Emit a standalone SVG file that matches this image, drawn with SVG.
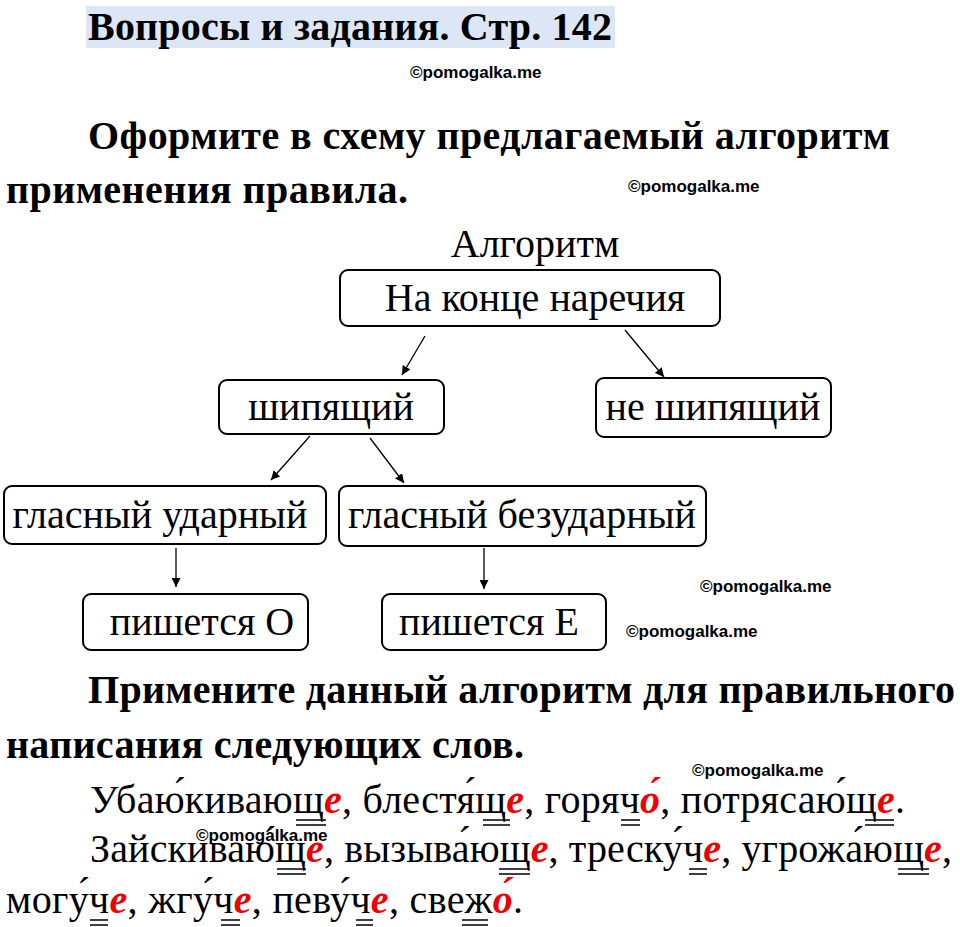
<svg xmlns="http://www.w3.org/2000/svg" width="960" height="927" viewBox="0 0 960 927">
<style>
.t{font-family:"Liberation Serif",serif;fill:#000}
.b{font-weight:bold;font-size:40px}
.n{font-size:40px}
.w{font-family:"Liberation Sans",Arial,sans-serif;font-weight:bold;font-size:17px;fill:#000}
.box{fill:#fff;stroke:#000;stroke-width:2}
.c{stroke:#000;stroke-width:1.3;fill:none;marker-end:url(#a)}
.r{fill:#e00;font-weight:bold;font-style:italic}
.u{stroke:#000;stroke-width:1.5}
</style>
<defs><marker id="a" viewBox="0 0 10 10" refX="10" refY="5" markerWidth="9" markerHeight="9" orient="auto" markerUnits="userSpaceOnUse"><path d="M0,0L10,5L0,10z" fill="#000"/></marker></defs>
<rect width="960" height="927" fill="#fff"/>
<rect x="86" y="6" width="529" height="42" fill="#dce6f4"/>
<text class="t b" x="88" y="40" textLength="524">Вопросы и задания. Стр. 142</text>
<text class="w" x="410" y="78">©pomogalka.me</text>
<text class="t b" x="88" y="149" textLength="802">Оформите в схему предлагаемый алгоритм</text>
<text class="t b" x="6" y="203" textLength="402">применения правила.</text>
<text class="w" x="628" y="192">©pomogalka.me</text>
<text class="t n" x="535" y="257" text-anchor="middle">Алгоритм</text>
<g id="n1"><rect class="box" x="340" y="270" width="380" height="56" rx="8"/><text class="t n" x="535" y="311" text-anchor="middle">На конце наречия</text></g>
<g id="n2"><rect class="box" x="219" y="380" width="225" height="54" rx="8"/><text class="t n" x="331" y="420" text-anchor="middle">шипящий</text></g>
<g id="n3"><rect class="box" x="596" y="378" width="235" height="59" rx="8"/><text class="t n" x="713" y="420" text-anchor="middle">не шипящий</text></g>
<g id="n4"><rect class="box" x="4" y="486" width="322" height="58" rx="8"/><text class="t n" x="160" y="528" text-anchor="middle">гласный ударный</text></g>
<g id="n5"><rect class="box" x="339" y="486" width="367" height="60" rx="8"/><text class="t n" x="522" y="528" text-anchor="middle">гласный безударный</text></g>
<g id="n6"><rect class="box" x="83" y="594" width="225" height="56" rx="8"/><text class="t n" x="202" y="635" text-anchor="middle">пишется О</text></g>
<g id="n7"><rect class="box" x="382" y="594" width="224" height="56" rx="8"/><text class="t n" x="489" y="635" text-anchor="middle">пишется Е</text></g>
<g id="edges">
<line class="c" x1="425" y1="336" x2="402" y2="375"/>
<line class="c" x1="625" y1="330" x2="664" y2="377"/>
<line class="c" x1="310" y1="436" x2="271" y2="480"/>
<line class="c" x1="370" y1="438" x2="404" y2="483"/>
<line class="c" x1="176" y1="548" x2="176" y2="587"/>
<line class="c" x1="484" y1="548" x2="484" y2="589"/>
</g>
<text class="w" x="700" y="592">©pomogalka.me</text>
<text class="w" x="626" y="637">©pomogalka.me</text>
<text class="t b" x="88" y="703" textLength="867">Примените данный алгоритм для правильного</text>
<text class="t b" x="6" y="758" textLength="518">написания следующих слов.</text>
<text class="w" x="692" y="776">©pomogalka.me</text>
<text class="t n" x="90" y="813" textLength="815">Убаю́киваю<tspan>щ</tspan><tspan class="r">е</tspan>, блестя́щ<tspan class="r">е</tspan>, горяч<tspan class="r">о́</tspan>, потрясаю́щ<tspan class="r">е</tspan>.</text>
<text class="w" x="196" y="841">©pomogalka.me</text>
<text class="t n" x="90" y="862" textLength="862">Зайскиваю́щ<tspan class="r">е</tspan>, вызыва́ющ<tspan class="r">е</tspan>, треску́ч<tspan class="r">е</tspan>, угрожа́ющ<tspan class="r">е</tspan>,</text>
<text class="t n" x="6" y="913" textLength="517">могу́ч<tspan class="r">е</tspan>, жгу́ч<tspan class="r">е</tspan>, певу́ч<tspan class="r">е</tspan>, свеж<tspan class="r">о́</tspan>.</text>
<g id="underlines">
<path class="u" d="M296 820h30M296 825h30M483 820h27M483 825h27M621 820h19M621 825h19M865 820h29M865 825h29M277 869h29M277 874h29M499 869h31M499 874h31M689 869h18M689 874h18M898 869h31M898 874h31M90 920h18M90 925h18M221 920h19M221 925h19M356 920h17M356 925h17M462 920h26M462 925h26"/>
</g>
</svg>
